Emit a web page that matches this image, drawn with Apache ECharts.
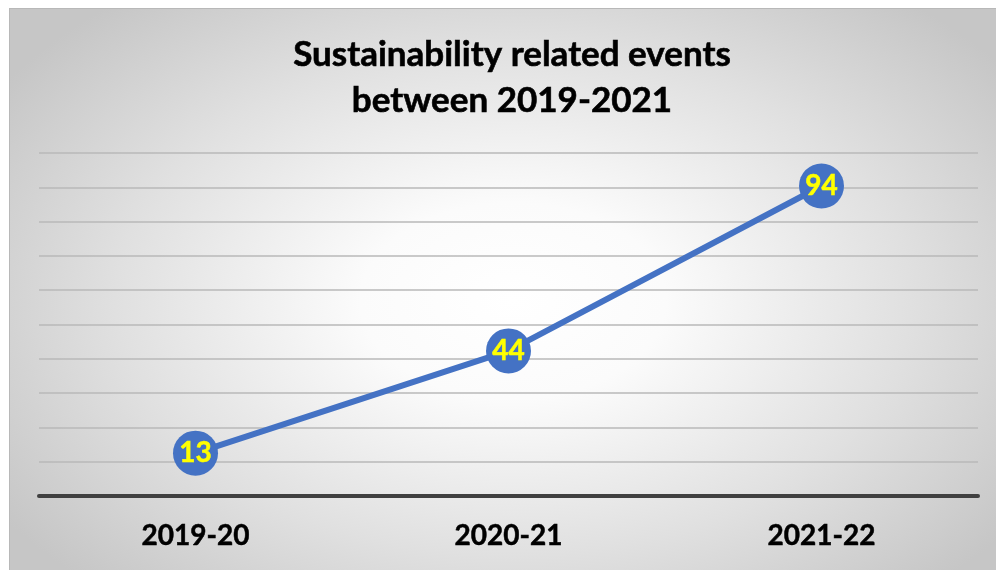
<!DOCTYPE html>
<html>
<head>
<meta charset="utf-8">
<script src="https://cdn.jsdelivr.net/npm/echarts@6/dist/echarts.min.js"></script>
<style>
  html, body { margin: 0; padding: 0; background: #ffffff; }
  #bg { position: absolute; left: 9px; top: 8px; width: 987px; height: 562px;
        box-sizing: border-box; border-left: 1px solid #b8b8b8; border-top: 1px solid #b8b8b8;
        background: radial-gradient(ellipse 62% 70% at 51% 52%, #ffffff 0%, #fbfbfb 25%, #e0e0e0 65%, #c6c6c6 100%); }
  #chart { position: absolute; left: 0; top: 0; width: 996px; height: 570px; }
</style>
</head>
<body>
<div id="bg"></div>
<div id="chart"></div>
<script>
const titleLines = ['Sustainability related events', 'between 2019-2021'];
const categories = ['2019-20', '2020-21', '2021-22'];
const eventCounts = [13, 44, 94];

const chart = echarts.init(document.getElementById('chart'), null, { renderer: 'canvas' });
const FONT = 'Lato';
chart.setOption({
  backgroundColor: 'transparent',
  animation: false,
  title: {
    text: titleLines.join('\n'),
    left: 507,
    textAlign: 'center',
    top: 27,
    textStyle: { fontFamily: FONT, fontWeight: 'bold', fontSize: 35, color: '#000', lineHeight: 46,
                 textBorderColor: '#000', textBorderWidth: 0.6 }
  },
  grid: { left: 39, right: 18, top: 153, bottom: 74, containLabel: false },
  xAxis: {
    type: 'category',
    data: categories,
    boundaryGap: true,
    axisLine: { show: true, lineStyle: { color: '#404040', width: 4 } },
    axisTick: { show: false },
    axisLabel: { margin: 26, fontFamily: FONT, fontWeight: 'bold', fontSize: 28, color: '#000',
                 textBorderColor: '#000', textBorderWidth: 0.5 },
    splitLine: { show: false }
  },
  yAxis: {
    type: 'value',
    min: 0,
    max: 104,
    interval: 10.4,
    axisLine: { show: false },
    axisTick: { show: false },
    axisLabel: { show: false },
    splitLine: { show: true, lineStyle: { color: '#b9b9b9', width: 1.5 } }
  },
  series: [{
    type: 'line',
    data: eventCounts,
    symbol: 'circle',
    symbolSize: 45,
    lineStyle: { color: '#4472C4', width: 6 },
    itemStyle: { color: '#4472C4' },
    label: {
      show: true,
      position: 'inside',
      fontFamily: FONT,
      fontWeight: 'bold',
      fontSize: 28,
      color: '#FFFF00',
      textBorderColor: '#FFFF00',
      textBorderWidth: 0.5
    },
    z: 3
  }]
});
</script>
</body>
</html>
